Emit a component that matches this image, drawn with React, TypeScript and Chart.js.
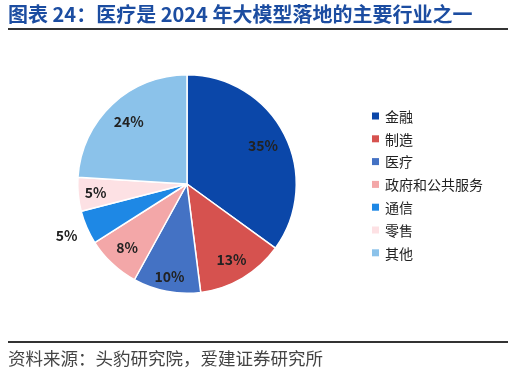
import React, { useEffect, useRef } from 'react';
import { Chart, registerables } from 'chart.js';

Chart.register(...registerables);

const categories = ['金融', '制造', '医疗', '政府和公共服务', '通信', '零售', '其他'];
const shares = [35, 13, 10, 8, 5, 5, 24];
const sliceColors = ['#0B47A9', '#D6524F', '#4472C4', '#F3A7A8', '#1E88E5', '#FDE1E4', '#8BC2EA'];
const labelRadiusFactor = [0.78, 0.8, 0.86, 0.8, 1.2, 0.84, 0.78];

const FONT = '"Noto Sans CJK SC", "Noto Sans", sans-serif';

const labelsPlugin = {
  id: 'sliceLabels',
  afterDatasetsDraw(chart: any) {
    const { ctx } = chart;
    const meta = chart.getDatasetMeta(0);
    ctx.save();
    ctx.font = `bold 14px ${FONT}`;
    ctx.fillStyle = '#222222';
    ctx.textAlign = 'center';
    ctx.textBaseline = 'middle';
    meta.data.forEach((arc: any, i: number) => {
      const mid = (arc.startAngle + arc.endAngle) / 2;
      const r = arc.outerRadius * labelRadiusFactor[i];
      const x = arc.x + Math.cos(mid) * r;
      const y = arc.y + Math.sin(mid) * r;
      ctx.fillText(`${chart.data.datasets[0].data[i]}%`, x, y);
    });
    ctx.restore();
  },
};

const legendPlugin = {
  id: 'customLegend',
  afterDraw(chart: any) {
    const { ctx } = chart;
    ctx.save();
    ctx.font = `14px ${FONT}`;
    ctx.textBaseline = 'middle';
    ctx.textAlign = 'left';
    const x0 = 372;
    const y0 = 116;
    const step = 22.8;
    chart.data.labels.forEach((lab: string, i: number) => {
      const y = y0 + i * step;
      ctx.fillStyle = chart.data.datasets[0].backgroundColor[i];
      ctx.fillRect(x0, y - 3.5, 7, 7);
      ctx.fillStyle = '#222222';
      ctx.fillText(lab, x0 + 13, y + 0.5);
    });
    ctx.restore();
  },
};

export default function App() {
  const ref = useRef<HTMLCanvasElement>(null);
  useEffect(() => {
    if (!ref.current) return;
    const chart = new Chart(ref.current, {
      type: 'pie',
      data: {
        labels: categories,
        datasets: [
          {
            data: shares,
            backgroundColor: sliceColors,
            borderColor: '#ffffff',
            borderWidth: 1.5,
          },
        ],
      },
      options: {
        animation: false,
        responsive: false,
        maintainAspectRatio: false,
        layout: { padding: { left: 77, top: 74, right: 217, bottom: 79 } },
        plugins: {
          legend: { display: false },
          tooltip: { enabled: false },
        },
      },
      plugins: [labelsPlugin, legendPlugin],
    });
    return () => chart.destroy();
  }, []);

  return (
    <div style={{ position: 'fixed', left: 0, top: 0, width: 514, height: 373, background: '#fff', fontFamily: FONT }}>
      <div
        style={{
          position: 'absolute',
          left: 8,
          top: 2,
          fontSize: 20,
          fontWeight: 'bold',
          color: '#1C4DA1',
          whiteSpace: 'nowrap',
          lineHeight: '24px',
        }}
      >
        图表 24：医疗是 2024 年大模型落地的主要行业之一
      </div>
      <div style={{ position: 'absolute', left: 8, top: 28, width: 500, height: 2, background: '#333' }} />
      <canvas ref={ref} width={514} height={373} style={{ position: 'absolute', left: 0, top: 0 }} />
      <div style={{ position: 'absolute', left: 8, top: 341, width: 500, height: 1.5, background: '#333' }} />
      <div
        style={{
          position: 'absolute',
          left: 8,
          top: 346,
          fontSize: 17.5,
          color: '#444',
          whiteSpace: 'nowrap',
          lineHeight: '24px',
        }}
      >
        资料来源：头豹研究院，爱建证券研究所
      </div>
    </div>
  );
}
